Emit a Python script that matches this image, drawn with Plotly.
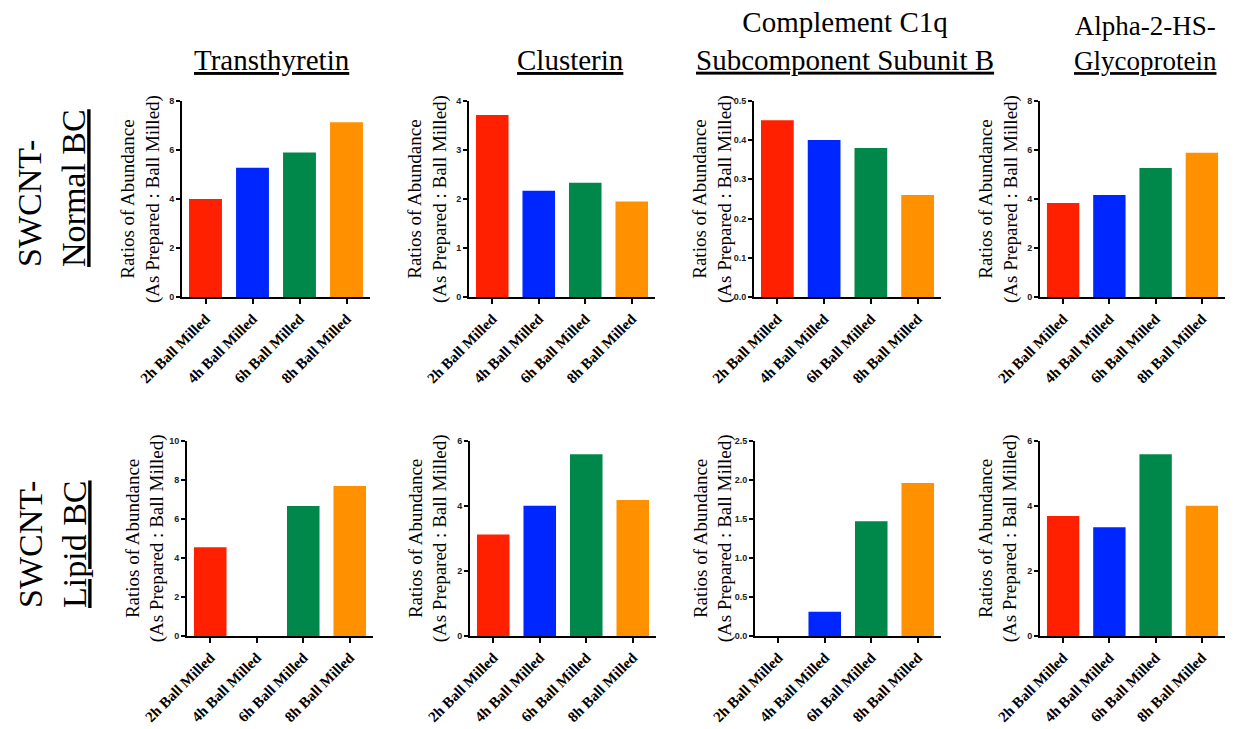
import plotly.graph_objects as go

W, H = 1235, 729

categories = ["2h Ball Milled", "4h Ball Milled", "6h Ball Milled", "8h Ball Milled"]
bar_colors = ["#FF2000", "#0026FF", "#00884A", "#FF9100"]

normal_transthyretin = [4.0, 5.27, 5.89, 7.12]
normal_clusterin = [3.71, 2.17, 2.33, 1.95]
normal_c1q = [0.45, 0.40, 0.38, 0.26]
normal_alpha = [3.84, 4.16, 5.26, 5.88]

lipid_transthyretin = [4.54, 0.0, 6.66, 7.68]
lipid_clusterin = [3.12, 4.0, 5.58, 4.18]
lipid_c1q = [0.0, 0.31, 1.47, 1.96]
lipid_alpha = [3.69, 3.34, 5.58, 4.0]

col_titles = ["<u>Transthyretin</u>", "<u>Clusterin</u>",
              "Complement C1q<br><u>Subcomponent Subunit B</u>",
              "Alpha-2-HS-<br><u>Glycoprotein</u>"]
row_titles = ["SWCNT-<br><u>Normal BC</u>", "SWCNT-<br><u>Lipid BC</u>"]
y_title = "Ratios of Abundance<br>(As Prepared : Ball Milled)"

panels = [
    (normal_transthyretin, 8, 2, "d"),
    (normal_clusterin, 4, 1, "d"),
    (normal_c1q, 0.5, 0.1, ".1f"),
    (normal_alpha, 8, 2, "d"),
    (lipid_transthyretin, 10, 2, "d"),
    (lipid_clusterin, 6, 2, "d"),
    (lipid_c1q, 2.5, 0.5, ".1f"),
    (lipid_alpha, 6, 2, "d"),
]

# layout positions in pixels
x_px = [[(182, 370), (469, 655), (754, 941), (1040, 1225)],
        [(187, 373), (470, 656), (755, 941), (1040, 1225)]]
y_px = [(100.7, 297.3), (440.7, 636)]
title_cx = [272, 570, 845, 1145]
title_size = [29, 29, 29, 27]

def px_x(p):
    return p / W

def px_y(p):
    return 1 - p / H

fig = go.Figure()
layout = dict(width=W, height=H, margin=dict(l=0, r=0, t=0, b=0, autoexpand=False),
              paper_bgcolor="white", plot_bgcolor="white", showlegend=False,
              bargap=0.3)
annotations = []

for i, (vals, ymax, dt, fmt) in enumerate(panels):
    r, c = divmod(i, 4)
    n = i + 1
    xa = "x" if n == 1 else f"x{n}"
    ya = "y" if n == 1 else f"y{n}"
    fig.add_trace(go.Bar(x=categories, y=vals, marker=dict(color=bar_colors, line=dict(width=0)),
                         width=0.7, xaxis=xa, yaxis=ya))
    x0, x1 = x_px[r][c]
    y0, y1 = y_px[r]
    layout["xaxis" if n == 1 else f"xaxis{n}"] = dict(
        domain=[px_x(x0), px_x(x1)], anchor=ya, range=[-0.5, 3.5],
        showline=True, linecolor="black", linewidth=2, showgrid=False, zeroline=False,
        ticks="outside", ticklen=5, tickwidth=2, tickcolor="black", tickangle=-45,
        tickfont=dict(family="Liberation Serif", size=15, color="black", weight="bold"),
        automargin=False, fixedrange=True)
    layout["yaxis" if n == 1 else f"yaxis{n}"] = dict(
        domain=[px_y(y1), px_y(y0)], anchor=xa, range=[0, ymax], dtick=dt, tick0=0,
        tickformat=fmt, showline=True, linecolor="black", linewidth=2, showgrid=False,
        zeroline=False, ticks="outside", ticklen=4, tickwidth=1.5, tickcolor="black",
        tickfont=dict(family="Liberation Sans", size=9, color="#222", weight="bold"),
        automargin=False, fixedrange=True)
    annotations.append(dict(
        text=y_title, x=px_x(x0 - 42), y=px_y((y0 + y1) / 2), xref="paper", yref="paper",
        xanchor="center", yanchor="middle", textangle=-90, showarrow=False, align="center",
        font=dict(family="Liberation Serif", size=19, color="black")))

for c, t in enumerate(col_titles):
    annotations.append(dict(
        text=t, x=px_x(title_cx[c]), y=px_y(78), xref="paper", yref="paper",
        xanchor="center", yanchor="bottom", showarrow=False, align="center",
        font=dict(family="Liberation Serif", size=title_size[c], color="black")))

row_cy = [188, 544]
for r, t in enumerate(row_titles):
    annotations.append(dict(
        text=t, x=px_x(52), y=px_y(row_cy[r]), xref="paper", yref="paper",
        xanchor="center", yanchor="middle", textangle=-90, showarrow=False, align="left",
        font=dict(family="Liberation Serif", size=34, color="black")))

layout["annotations"] = annotations
fig.update_layout(**layout)
fig.write_html("out.html", config={"displayModeBar": False},
               post_script="document.body.style.margin='0px';document.body.style.padding='0px';")
